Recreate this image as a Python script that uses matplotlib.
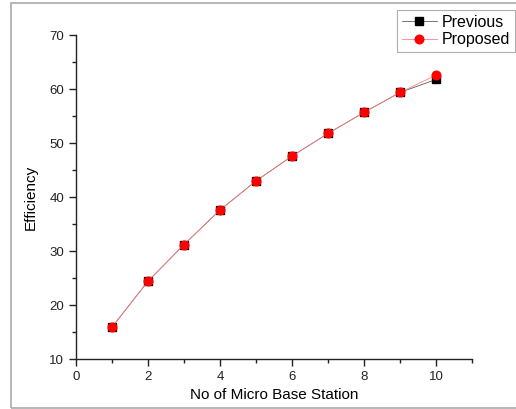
import matplotlib
matplotlib.use("Agg")
import matplotlib.pyplot as plt
from matplotlib.patches import Rectangle
from matplotlib.ticker import MultipleLocator

stations = [1, 2, 3, 4, 5, 6, 7, 8, 9, 10]
previous = [15.9, 24.4, 31.2, 37.6, 43.0, 47.6, 51.8, 55.7, 59.4, 61.8]
proposed = [15.9, 24.4, 31.2, 37.6, 43.0, 47.6, 51.8, 55.7, 59.4, 62.6]

plt.rcParams["font.family"] = ["Liberation Sans", "DejaVu Sans"]

fig = plt.figure(figsize=(5.16, 4.09), dpi=100)
ax = fig.add_axes([0.147, 0.122, 0.768, 0.792])

ax.plot(stations, previous, color="#404040", linewidth=0.5, marker="s",
        markersize=5.5, markerfacecolor="black", markeredgecolor="black",
        label="Previous")
ax.plot(stations, proposed, color="#ff8080", linewidth=0.6, marker="o",
        markersize=6.2, markerfacecolor="red", markeredgecolor="red",
        label="Proposed")

ax.set_xlim(0, 11)
ax.set_ylim(10, 70)
ax.xaxis.set_major_locator(MultipleLocator(2))
ax.xaxis.set_minor_locator(MultipleLocator(1))
ax.yaxis.set_major_locator(MultipleLocator(10))
ax.yaxis.set_minor_locator(MultipleLocator(5))
ax.spines["top"].set_visible(False)
ax.spines["right"].set_visible(False)
for s in ("left", "bottom"):
    ax.spines[s].set_linewidth(1.0)
    ax.spines[s].set_color("#222222")
ax.tick_params(which="major", direction="out", length=5, width=1, labelsize=9.5,
               colors="#222222")
ax.tick_params(which="minor", direction="out", length=3, width=1,
               colors="#222222")

ax.set_xlabel("No of Micro Base Station", fontsize=11)
ax.set_ylabel("Efficiency", fontsize=11, labelpad=8)

leg = ax.legend(loc="upper right", bbox_to_anchor=(1.108, 1.077), fontsize=11.5,
                frameon=True, fancybox=False, handlelength=2.2,
                borderpad=0.3, labelspacing=0.15, handletextpad=0.3,
                borderaxespad=0.0)
leg.get_frame().set_edgecolor("#999999")
leg.get_frame().set_linewidth(0.8)

# outer frame of the original figure
fig.add_artist(Rectangle((11 / 516, 1 / 409), 1.0, 405 / 409,
                         transform=fig.transFigure, facecolor="none",
                         edgecolor="#aaaaaa", linewidth=1.2, clip_on=False))

fig.savefig("out.png", dpi=100)
